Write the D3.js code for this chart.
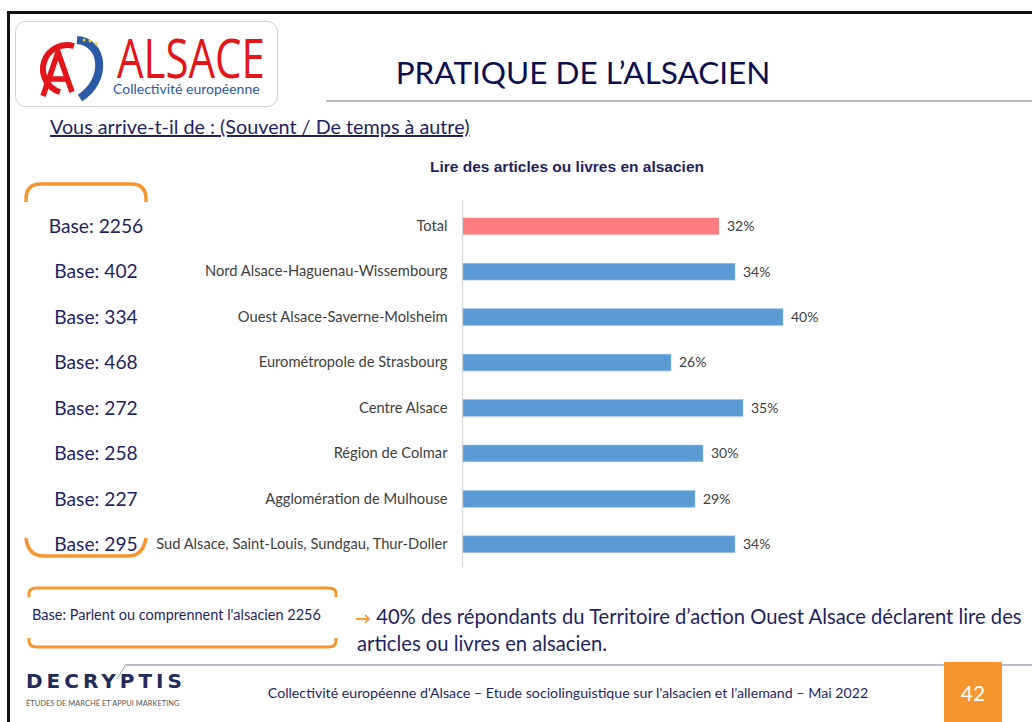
<!DOCTYPE html>
<html>
<head>
<meta charset="utf-8">
<script src="https://cdn.jsdelivr.net/npm/d3@7"></script>
<style>
  html, body { margin: 0; padding: 0; background: #fff; }
  svg { display: block; font-family: Lato, "Open Sans", sans-serif; }
</style>
</head>
<body>
<svg id="chart"></svg>
<script>
// ---- data ----
const categories = [
  "Total",
  "Nord Alsace-Haguenau-Wissembourg",
  "Ouest Alsace-Saverne-Molsheim",
  "Eurométropole de Strasbourg",
  "Centre Alsace",
  "Région de Colmar",
  "Agglomération de Mulhouse",
  "Sud Alsace, Saint-Louis, Sundgau, Thur-Doller"
];
const values = [32, 34, 40, 26, 35, 30, 29, 34];
const bases = [2256, 402, 334, 468, 272, 258, 227, 295];

const NAVY = "#1f1f66";
const ORANGE = "#f7962f";
const BLUE = "#5b9bd5";
const PINK = "#ff7c80";

function renderChart() {
  const width = 1032, height = 722;
  const svg = d3.select("#chart")
    .attr("width", width)
    .attr("height", height);

  // slide frame
  svg.append("path")
    .attr("d", `M8.5,${height} V12.5 H${width}`)
    .attr("fill", "none")
    .attr("stroke", "#111")
    .attr("stroke-width", 3);

  // ===== HEADER =====
  const logo = svg.append("g");
  logo.append("rect")
    .attr("x", 15.5).attr("y", 21.5)
    .attr("width", 262).attr("height", 85)
    .attr("rx", 10)
    .attr("fill", "#fff")
    .attr("stroke", "#cfcfcf");

  // emblem: red ring with A, blue arc with stars
  logo.append("path")
    .attr("d", "M60,92 A23,23 0 1 1 74,46")
    .attr("fill", "none").attr("stroke", "#e3151a").attr("stroke-width", 6);
  logo.append("path")
    .attr("d", "M43,96 L58,52 L72,92 M49,79 H68")
    .attr("fill", "none").attr("stroke", "#e3151a").attr("stroke-width", 5.5);
  logo.append("path")
    .attr("d", "M77,40 C104,42 108,80 80,98")
    .attr("fill", "none").attr("stroke", "#2d5aa6").attr("stroke-width", 8);
  [[84, 40], [90, 41], [96, 44]].forEach(p => {
    logo.append("circle").attr("cx", p[0]).attr("cy", p[1]).attr("r", 1.4).attr("fill", "#f2d21b");
  });

  logo.append("text")
    .attr("transform", "translate(117,78) scale(1,1.3)")
    .attr("font-family", "'Open Sans', sans-serif")
    .attr("font-size", 42)
    .attr("fill", "#e3151a")
    .text("ALSACE");
  logo.append("text")
    .attr("x", 113).attr("y", 94)
    .attr("font-size", 14)
    .attr("fill", "#2d5aa6")
    .text("Collectivité européenne");

  svg.append("text")
    .attr("x", 583).attr("y", 84)
    .attr("text-anchor", "middle")
    .attr("font-size", 31.5)
    .attr("fill", "#0d0d52")
    .text("PRATIQUE DE L’ALSACIEN");

  svg.append("line")
    .attr("x1", 326).attr("x2", width)
    .attr("y1", 101).attr("y2", 101)
    .attr("stroke", "#a6a6a6").attr("stroke-width", 1.5);

  svg.append("text")
    .attr("x", 50).attr("y", 134)
    .attr("font-size", 19.8)
    .attr("fill", NAVY)
    .attr("text-decoration", "underline")
    .text("Vous arrive-t-il de : (Souvent / De temps à autre)");

  svg.append("text")
    .attr("x", 567).attr("y", 172)
    .attr("text-anchor", "middle")
    .attr("font-family", "'Liberation Sans', Arial, sans-serif")
    .attr("font-size", 15.5)
    .attr("font-weight", 700)
    .attr("fill", NAVY)
    .text("Lire des articles ou livres en alsacien");

  // ===== BAR CHART =====
  const yScale = d3.scaleBand()
    .domain(categories)
    .range([203.5, 567])
    .paddingInner(0.63)
    .paddingOuter(0.315);

  const xScale = d3.scaleLinear()
    .domain([0, 40])
    .range([463, 783]);

  const yAxis = svg.append("g")
    .attr("transform", "translate(462.5,0)")
    .call(d3.axisLeft(yScale).tickSize(0).tickPadding(15));
  yAxis.select(".domain").attr("stroke", "#d9d9d9").attr("stroke-width", 1.3)
    .attr("d", "M0,200V567");
  yAxis.selectAll("text")
    .attr("font-family", "Lato, sans-serif")
    .attr("font-size", 14.7)
    .attr("fill", "#404040");

  const rows = categories.map((c, i) => ({ cat: c, val: values[i], base: bases[i] }));

  svg.append("g").selectAll("rect")
    .data(rows)
    .join("rect")
    .attr("x", xScale(0))
    .attr("y", d => yScale(d.cat))
    .attr("width", d => xScale(d.val) - xScale(0))
    .attr("height", yScale.bandwidth())
    .attr("fill", (d, i) => i === 0 ? PINK : BLUE)
    .attr("stroke", (d, i) => i === 0 ? "none" : "#9dc3e6")
    .attr("stroke-width", 0.6);

  svg.append("g").selectAll("text")
    .data(rows)
    .join("text")
    .attr("x", d => xScale(d.val) + 8)
    .attr("y", d => yScale(d.cat) + yScale.bandwidth() / 2)
    .attr("dy", "0.35em")
    .attr("font-size", 14)
    .attr("fill", "#404040")
    .text(d => d.val + "%");

  // ===== BASES =====
  svg.append("g").selectAll("text")
    .data(rows)
    .join("text")
    .attr("x", 96)
    .attr("y", d => yScale(d.cat) + yScale.bandwidth() / 2)
    .attr("dy", "0.35em")
    .attr("text-anchor", "middle")
    .attr("font-size", 19.2)
    .attr("fill", NAVY)
    .text(d => "Base: " + d.base);

  // orange brackets around the bases
  svg.append("path")
    .attr("d", "M26,202 V199 Q26,184 41,184 H131 Q146,184 146,199 V202")
    .attr("fill", "none").attr("stroke", ORANGE).attr("stroke-width", 3.5);
  svg.append("path")
    .attr("d", "M26,538 Q28,556 44,556 H128 Q143,556 146,538")
    .attr("fill", "none").attr("stroke", ORANGE).attr("stroke-width", 3.5);

  // ===== FOOTNOTE BOX =====
  svg.append("path")
    .attr("d", "M29,597 V593 Q29,588 37,588 H328 Q336,588 336,593 V597")
    .attr("fill", "none").attr("stroke", ORANGE).attr("stroke-width", 3);
  svg.append("path")
    .attr("d", "M29,638 V641 Q29,647 37,647 H328 Q336,647 336,641 V638")
    .attr("fill", "none").attr("stroke", ORANGE).attr("stroke-width", 3);
  svg.append("text")
    .attr("x", 32).attr("y", 620)
    .attr("font-size", 14.5)
    .attr("fill", NAVY)
    .text("Base: Parlent ou comprennent l'alsacien 2256");

  const note = svg.append("text")
    .attr("font-size", 20.2)
    .attr("fill", NAVY);
  note.append("tspan")
    .attr("x", 355).attr("y", 624)
    .attr("fill", ORANGE)
    .attr("font-weight", 700)
    .attr("font-size", 16)
    .text("→");
  note.append("tspan")
    .text(" 40% des répondants du Territoire d’action Ouest Alsace déclarent lire des");
  note.append("tspan")
    .attr("x", 357).attr("y", 651)
    .text("articles ou livres en alsacien.");

  // ===== FOOTER =====
  svg.append("line")
    .attr("x1", 125).attr("x2", width)
    .attr("y1", 665).attr("y2", 665)
    .attr("stroke", "#a5a5bd").attr("stroke-width", 1.5);

  svg.append("path")
    .attr("d", "M117,679 L125,666")
    .attr("fill", "none").attr("stroke", "#9a9aaa").attr("stroke-width", 1);
  svg.append("text")
    .attr("x", 26).attr("y", 688)
    .attr("font-family", "'DejaVu Sans', sans-serif")
    .attr("font-size", 20)
    .attr("font-weight", 700)
    .attr("letter-spacing", 4)
    .attr("fill", "#232a5c")
    .text("DECRYPTIS");
  svg.append("text")
    .attr("x", 26).attr("y", 706)
    .attr("font-size", 7.5)
    .attr("fill", "#555")
    .text("ÉTUDES DE MARCHÉ ET APPUI MARKETING");

  svg.append("text")
    .attr("x", 568).attr("y", 698)
    .attr("text-anchor", "middle")
    .attr("font-size", 14.2)
    .attr("fill", NAVY)
    .text("Collectivité européenne d'Alsace – Etude sociolinguistique sur l’alsacien et l’allemand – Mai 2022");

  svg.append("rect")
    .attr("x", 944).attr("y", 662)
    .attr("width", 58).attr("height", 60)
    .attr("fill", ORANGE);
  svg.append("text")
    .attr("x", 973).attr("y", 701)
    .attr("text-anchor", "middle")
    .attr("font-size", 21)
    .attr("fill", "#fff")
    .text("42");
}

renderChart();
</script>
</body>
</html>
